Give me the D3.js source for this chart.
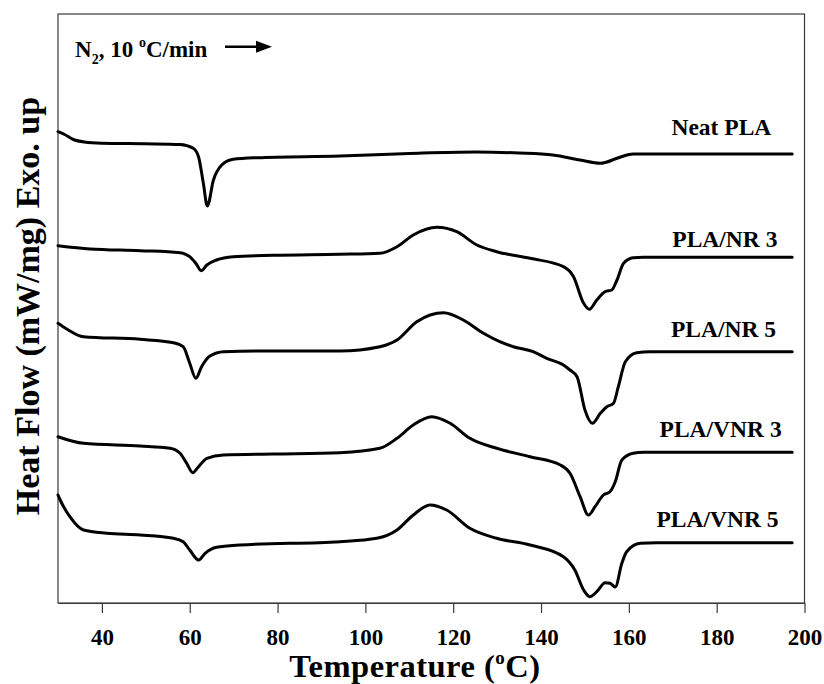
<!DOCTYPE html>
<html>
<head>
<meta charset="utf-8">
<script src="https://cdn.jsdelivr.net/npm/d3@7/dist/d3.min.js"></script>
<style>
  html, body { margin: 0; padding: 0; background: #fff; }
  svg { display: block; }
  text { font-family: "Liberation Serif", "Times New Roman", serif; font-weight: bold; fill: #000; }
</style>
</head>
<body>
<svg id="chart" width="824" height="684"></svg>
<script>
// DSC heating scans (relative heat flow, a.u., curves stacked with offsets; exotherm up)
const seriesNames = ["Neat PLA", "PLA/NR 3", "PLA/NR 5", "PLA/VNR 3", "PLA/VNR 5"];

const neatPLA = [
  [30, 471.3], [31.5, 468.5], [33.5, 463.5], [36, 461], [40, 459.8], [50, 459.2],
  [57.8, 458.5], [60.8, 454.7], [62, 446.3], [63.1, 419.7], [64, 397], [65.4, 423],
  [67.3, 438], [69.9, 443.7], [75.3, 445.3], [94.2, 447], [110, 449.5], [125, 451],
  [135, 450], [142.7, 448], [148.9, 443], [153.5, 439.7], [157.3, 444.7], [159.6, 448],
  [161, 449], [197.2, 449]
];

const plaNR3 = [
  [30, 357.3], [37.3, 354], [48.7, 352.3], [57.8, 350.3], [60, 346.3], [61.5, 339],
  [62.6, 332.3], [63.9, 338], [66.1, 343], [69.9, 346.3], [79, 347.7], [94.2, 348.7],
  [103.3, 349.7], [107.2, 356.3], [110.9, 368], [116.3, 375.7], [120.8, 371.3],
  [125.4, 358], [129.9, 351.3], [137.5, 344.7], [145.1, 336.3], [147.4, 326.3],
  [149.7, 299.7], [151, 293.7], [152.7, 303], [154.6, 311.3], [156.1, 313], [157.3, 323],
  [158.8, 339.7], [161, 345.3], [163.3, 345.7], [197.2, 345.7]
];

const plaNR5 = [
  [30, 279.7], [32, 274], [35.8, 266.3], [48.7, 263.7], [56.3, 260.3], [58.5, 256.3],
  [60, 239.7], [61.4, 224.7], [62.7, 236.3], [64.6, 247], [67.7, 251.3], [75.3, 252],
  [94.2, 252], [103.3, 256.3], [107.2, 263], [111.7, 281.3], [117.8, 290.3], [122.3, 283],
  [126.9, 269.7], [130.6, 261.3], [133.7, 256.3], [138.2, 251.3], [141.3, 244.7],
  [145.1, 238], [146.6, 233], [148.2, 226.3], [150, 193], [151.7, 179.7], [153.5, 189.7],
  [155, 196.3], [156.5, 199.7], [157.6, 216.3], [159.2, 241.3], [161.8, 250.3],
  [164.8, 251.3], [197.2, 251.3]
];

const plaVNR3 = [
  [30, 166.3], [35.8, 159.7], [48.7, 157], [55.5, 154.7], [57.8, 149.7], [59.3, 139.7],
  [60.7, 130.3], [62, 136.3], [63.9, 144.7], [67.7, 148], [79, 149], [94.2, 150.3],
  [103.3, 154.7], [107.2, 164.7], [110.9, 178], [115.1, 186.3], [119.3, 179.7],
  [123.8, 164.7], [129.9, 154.7], [137.5, 146.3], [144.4, 138], [146.6, 129.7],
  [148.9, 106.3], [150.8, 88], [152.3, 96.3], [154.2, 108], [155.7, 111.3], [156.9, 121.3],
  [158.4, 143], [161, 149.7], [163.3, 150.7], [197.2, 150.7]
];

const plaVNR5 = [
  [30, 108], [30.5, 103], [32.7, 86.3], [35.8, 73], [41.1, 69.7], [48.7, 68], [56.3, 64.7],
  [58.5, 61.3], [60, 53], [62, 43], [63.5, 49.7], [66.1, 55.7], [71.4, 58], [94.2, 61.3],
  [102.6, 64.7], [107.2, 73], [110.9, 88], [114.7, 98], [118.5, 93], [123.8, 74.7],
  [129.9, 64.7], [137.5, 58], [145.1, 46.3], [147.7, 33], [149.7, 13], [151.1, 6.3],
  [152.7, 11.3], [154.6, 20.3], [155.7, 19.7], [156.9, 16], [158.4, 39.7], [159.5, 51.3],
  [162.6, 59.7], [166.3, 60.3], [197.2, 60.3]
];

const seriesValues = [neatPLA, plaNR3, plaNR5, plaVNR3, plaVNR5];

// where each curve name sits: temperature of its left edge and heat-flow level of its baseline
const labelTemps = [169.7, 169.9, 169.6, 167.0, 166.3];
const labelLevels = [468, 356, 266, 166, 75.7];

const xTicks = [40, 60, 80, 100, 120, 140, 160, 180, 200];
const xDomain = [30, 200];
const yDomain = [0, 589];

const svg = d3.select("#chart");
const margin = { left: 58, right: 804.5, top: 14, bottom: 603 };

const x = d3.scaleLinear().domain(xDomain).range([margin.left, margin.right]);
const y = d3.scaleLinear().domain(yDomain).range([margin.bottom, margin.top]);

// plot frame
svg.append("rect")
  .attr("x", margin.left).attr("y", margin.top)
  .attr("width", margin.right - margin.left).attr("height", margin.bottom - margin.top)
  .attr("fill", "none").attr("stroke", "#3a3a3a").attr("stroke-width", 1.2);

// bottom axis
const xAxis = svg.append("g")
  .attr("transform", `translate(0,${margin.bottom})`)
  .call(d3.axisBottom(x).tickValues(xTicks).tickFormat(d3.format("d"))
    .tickSize(10).tickSizeOuter(0).tickPadding(15.7));
xAxis.select(".domain").attr("stroke", "#3a3a3a").attr("stroke-width", 1.2);
xAxis.selectAll(".tick line").attr("stroke", "#3a3a3a").attr("stroke-width", 1.2);
xAxis.selectAll(".tick text")
  .style("font-family", '"Liberation Serif", "Times New Roman", serif')
  .style("font-weight", "bold").style("font-size", "23px").attr("fill", "#000");

// curves
const line = d3.line()
  .x(d => x(d[0]))
  .y(d => y(d[1]))
  .curve(d3.curveMonotoneX);

svg.append("g").selectAll("path")
  .data(seriesValues)
  .join("path")
  .attr("d", line)
  .attr("fill", "none")
  .attr("stroke", "#000")
  .attr("stroke-width", 3)
  .attr("stroke-linejoin", "round")
  .attr("stroke-linecap", "round");

// curve names
svg.append("g").selectAll("text")
  .data(seriesNames)
  .join("text")
  .attr("x", (d, i) => x(labelTemps[i]))
  .attr("y", (d, i) => y(labelLevels[i]))
  .style("font-size", "23.5px")
  .text(d => d);

// x-axis title
const xt = svg.append("text")
  .attr("x", 415).attr("y", 677)
  .attr("text-anchor", "middle")
  .style("font-size", "32.5px")
  .style("letter-spacing", "0.5px");
xt.append("tspan").text("Temperature (");
xt.append("tspan").attr("dy", -13).style("font-size", "19px").text("o");
xt.append("tspan").attr("dy", 13).text("C)");

// y-axis title
svg.append("text")
  .attr("transform", "rotate(-90)")
  .attr("x", -306).attr("y", 39)
  .attr("text-anchor", "middle")
  .style("font-size", "34px")
  .text("Heat Flow (mW/mg) Exo. up");

// scan conditions note with arrow
const note = svg.append("text")
  .attr("x", 75).attr("y", 57)
  .style("font-size", "23px");
note.append("tspan").text("N");
note.append("tspan").attr("dy", 7).style("font-size", "14px").text("2");
note.append("tspan").attr("dy", -7).text(", 10 ");
note.append("tspan").attr("dy", -10).style("font-size", "14px").text("o");
note.append("tspan").attr("dy", 10).text("C/min");

svg.append("line")
  .attr("x1", 225).attr("x2", 260)
  .attr("y1", 46.7).attr("y2", 46.7)
  .attr("stroke", "#000").attr("stroke-width", 2.5);
svg.append("path")
  .attr("d", "M272,46.7 L256,40.7 L256,52.7 Z")
  .attr("fill", "#000");
</script>
</body>
</html>
